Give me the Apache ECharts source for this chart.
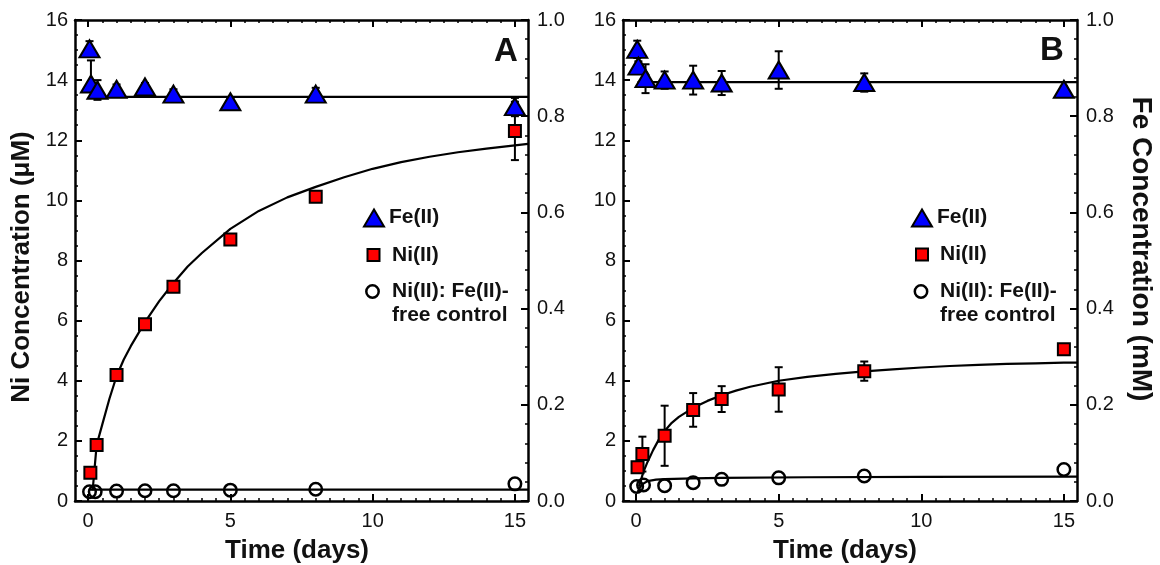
<!DOCTYPE html>
<html><head><meta charset="utf-8">
<script src="https://cdn.jsdelivr.net/npm/echarts@6/dist/echarts.min.js"></script>
<style>html,body{margin:0;padding:0;background:#fff}#c{width:1160px;height:565px}</style>
</head><body><div id="c"></div><script>
// ---------- DATA ----------
const xMajorTicks = [0, 5, 10, 15];
const xMinorTicks = [0,0.5,1,1.5,2,2.5,3,3.5,4,4.5,5,5.5,6,6.5,7,7.5,8,8.5,9,9.5,10,10.5,11,11.5,12,12.5,13,13.5,14,14.5,15];

// Panel A
const timeFeA = [0.05, 0.1, 0.33, 1, 2, 3, 5, 8, 15];
const feA     = [0.940, 0.867, 0.854, 0.856, 0.861, 0.846, 0.830, 0.846, 0.820];
const feALow  = [0.925, 0.867, 0.834, 0.847, 0.850, 0.838, 0.822, 0.831, 0.800];
const feAHigh = [0.956, 0.916, 0.875, 0.866, 0.869, 0.856, 0.838, 0.859, 0.838];
const feFitATime = [0.05, 15.46];
const feFitA     = [0.840, 0.840];

const timeNiA = [0.08, 0.3, 1, 2, 3, 5, 8, 15];
const niA     = [0.94, 1.86, 4.19, 5.88, 7.13, 8.7, 10.12, 12.31];
const niAErr  = [0, 0, 0, 0, 0, 0, 0, 0.97];
const niFitATime = [0.16, 0.3, 0.5, 0.75, 1, 1.25, 1.5, 2, 2.5, 3, 3.5, 4, 5, 6, 7, 8, 9, 10, 11, 12, 13, 14, 15, 15.46];
const niFitA     = [0.35, 1.86, 2.55, 3.4, 4.15, 4.7, 5.15, 5.95, 6.65, 7.25, 7.8, 8.25, 9.05, 9.65, 10.1, 10.45, 10.77, 11.05, 11.27, 11.45, 11.6, 11.72, 11.83, 11.88];

const timeCtrlA = [0.05, 0.25, 1, 2, 3, 5, 8, 15];
const ctrlA     = [0.31, 0.31, 0.33, 0.34, 0.34, 0.36, 0.39, 0.57];
const ctrlFitATime = [0.05, 15.46];
const ctrlFitA     = [0.38, 0.38];

// Panel B
const timeFeB = [0.04, 0.08, 0.33, 1, 2, 3, 5, 8, 15];
const feB     = [0.939, 0.904, 0.878, 0.875, 0.875, 0.869, 0.896, 0.870, 0.856];
const feBErr  = [0.018, 0.010, 0.030, 0.018, 0.030, 0.025, 0.039, 0.019, 0.006];
const feFitBTime = [0.05, 15.46];
const feFitB     = [0.871, 0.871];

const timeNiB = [0.05, 0.22, 1, 2, 3, 5, 8, 15];
const niB     = [1.12, 1.56, 2.17, 3.03, 3.39, 3.71, 4.32, 5.05];
const niBErr  = [0.15, 0.58, 1.0, 0.56, 0.43, 0.74, 0.32, 0];
const niFitBTime = [0.1, 0.25, 0.4, 0.6, 0.8, 1, 1.25, 1.5, 2, 2.5, 3, 3.5, 4, 5, 6, 7, 8, 9, 10, 11, 12, 13, 14, 15, 15.46];
const niFitB     = [0.48, 0.95, 1.3, 1.7, 2.05, 2.33, 2.6, 2.8, 3.1, 3.33, 3.52, 3.67, 3.8, 4.0, 4.13, 4.23, 4.31, 4.38, 4.44, 4.49, 4.53, 4.56, 4.58, 4.6, 4.6];

const timeCtrlB = [0.02, 0.26, 1, 2, 3, 5, 8, 15];
const ctrlB     = [0.48, 0.53, 0.51, 0.61, 0.72, 0.77, 0.83, 1.05];
const ctrlFitBTime = [0.05, 0.2, 0.4, 0.7, 1, 2, 3, 6, 10, 15.46];
const ctrlFitB     = [0.3, 0.55, 0.66, 0.71, 0.73, 0.75, 0.77, 0.79, 0.8, 0.81];

// ---------- CHART ----------
const FONT = '"Liberation Sans", Arial, sans-serif';
const INK = '#111';
const chart = echarts.init(document.getElementById('c'));
const zip = (a, b) => a.map((v, i) => [v, b[i]]);

function xAxesFor(gi) {
  const base = {gridIndex: gi, type: 'value', min: -0.46, max: 15.46, splitLine: {show: false}};
  return [
    Object.assign({}, base, {position: 'bottom',
      axisLine: {show: true, onZero: false, lineStyle: {color: '#000', width: 2.5}},
      axisTick: {show: true, inside: true, length: 7, customValues: xMajorTicks, lineStyle: {color: '#000', width: 2}},
      axisLabel: {show: true, customValues: xMajorTicks, fontSize: 20, color: INK, margin: 10, fontFamily: FONT}}),
    Object.assign({}, base, {position: 'bottom',
      axisLine: {show: false, onZero: false},
      axisTick: {show: true, inside: true, length: 3, customValues: xMinorTicks, lineStyle: {color: '#000', width: 1.5}},
      axisLabel: {show: false}}),
    Object.assign({}, base, {position: 'top',
      axisLine: {show: true, onZero: false, lineStyle: {color: '#000', width: 2.5}},
      axisTick: {show: true, inside: true, length: 7, customValues: xMajorTicks, lineStyle: {color: '#000', width: 2}},
      axisLabel: {show: false}}),
    Object.assign({}, base, {position: 'top',
      axisLine: {show: false, onZero: false},
      axisTick: {show: true, inside: true, length: 3, customValues: xMinorTicks, lineStyle: {color: '#000', width: 1.5}},
      axisLabel: {show: false}})
  ];
}
function yAxesFor(gi) {
  return [
    {gridIndex: gi, type: 'value', min: 0, max: 16, interval: 2, position: 'left',
     splitLine: {show: false},
     axisLine: {show: true, onZero: false, lineStyle: {color: '#000', width: 2.5}},
     axisTick: {show: true, inside: true, length: 7, lineStyle: {color: '#000', width: 2}},
     minorTick: {show: true, splitNumber: 4, length: 3, lineStyle: {color: '#000', width: 1.5}},
     axisLabel: {fontSize: 20, color: INK, margin: 7, fontFamily: FONT}},
    {gridIndex: gi, type: 'value', min: 0, max: 1, interval: 0.2, position: 'right',
     splitLine: {show: false},
     axisLine: {show: true, onZero: false, lineStyle: {color: '#000', width: 2.5}},
     axisTick: {show: true, inside: true, length: 7, lineStyle: {color: '#000', width: 2}},
     minorTick: {show: true, splitNumber: 5, length: 3, lineStyle: {color: '#000', width: 1.5}},
     axisLabel: {fontSize: 20, color: INK, margin: 9, fontFamily: FONT, formatter: v => v.toFixed(1)}}
  ];
}

function lineSeries(xi, yi, t, v) {
  return {type: 'line', xAxisIndex: xi, yAxisIndex: yi, data: zip(t, v), showSymbol: false, symbol: 'none',
    smooth: false, silent: true, z: 2,
    lineStyle: {color: '#000', width: 2.2, join: 'round'}};
}
function errSeries(xi, yi, t, lo, hi) {
  const data = t.map((x, i) => [x, lo[i], hi[i]]).filter(d => d[2] - d[1] > 1e-9);
  return {type: 'custom', xAxisIndex: xi, yAxisIndex: yi, z: 3, silent: true, data,
    encode: {x: 0, y: [1, 2]},
    renderItem: (params, api) => {
      const x = api.value(0), p1 = api.coord([x, api.value(1)]), p2 = api.coord([x, api.value(2)]);
      const w = 4, st = {stroke: '#000', lineWidth: 2};
      return {type: 'group', children: [
        {type: 'line', shape: {x1: p1[0], y1: p1[1], x2: p2[0], y2: p2[1]}, style: st},
        {type: 'line', shape: {x1: p1[0] - w, y1: p1[1], x2: p1[0] + w, y2: p1[1]}, style: st},
        {type: 'line', shape: {x1: p2[0] - w, y1: p2[1], x2: p2[0] + w, y2: p2[1]}, style: st}
      ]};
    }};
}
function scatter(xi, yi, name, t, v, kind) {
  const s = {type: 'scatter', name, xAxisIndex: xi, yAxisIndex: yi, data: zip(t, v), z: 4, silent: true};
  if (kind === 'tri') { s.symbol = 'triangle'; s.symbolSize = [20, 17]; s.itemStyle = {color: '#0000ff', borderColor: '#000', borderWidth: 2, opacity: 1}; }
  if (kind === 'sq')  { s.symbol = 'rect'; s.symbolSize = 12; s.itemStyle = {color: '#ff0000', borderColor: '#000', borderWidth: 2, opacity: 1}; }
  if (kind === 'ci')  { s.symbol = 'circle'; s.symbolSize = 12.5; s.itemStyle = {color: 'rgba(0,0,0,0)', borderColor: '#000', borderWidth: 2.5, opacity: 1}; }
  return s;
}
const sub = (v, e) => v.map((x, i) => x - e[i]);
const add = (v, e) => v.map((x, i) => x + e[i]);

function panel(xi, yl, yr, d) {
  return [
    lineSeries(xi, yr, d.feFitT, d.feFit),
    lineSeries(xi, yl, d.niFitT, d.niFit),
    lineSeries(xi, yl, d.ctrlFitT, d.ctrlFit),
    errSeries(xi, yr, d.feT, d.feLo, d.feHi),
    errSeries(xi, yl, d.niT, sub(d.ni, d.niErr), add(d.ni, d.niErr)),
    scatter(xi, yl, 'Ni(II): Fe(II)-free control', d.ctrlT, d.ctrl, 'ci'),
    scatter(xi, yl, 'Ni(II)', d.niT, d.ni, 'sq'),
    scatter(xi, yr, 'Fe(II)', d.feT, d.fe, 'tri')
  ];
}

const seriesA = panel(0, 0, 1, {feFitT: feFitATime, feFit: feFitA, niFitT: niFitATime, niFit: niFitA,
  ctrlFitT: ctrlFitATime, ctrlFit: ctrlFitA, feT: timeFeA, fe: feA, feLo: feALow, feHi: feAHigh,
  niT: timeNiA, ni: niA, niErr: niAErr, ctrlT: timeCtrlA, ctrl: ctrlA});
const seriesB = panel(4, 2, 3, {feFitT: feFitBTime, feFit: feFitB, niFitT: niFitBTime, niFit: niFitB,
  ctrlFitT: ctrlFitBTime, ctrlFit: ctrlFitB, feT: timeFeB, fe: feB, feLo: sub(feB, feBErr), feHi: add(feB, feBErr),
  niT: timeNiB, ni: niB, niErr: niBErr, ctrlT: timeCtrlB, ctrl: ctrlB});

function txt(x, y, text, size, opts) {
  return Object.assign({type: 'text', x, y, silent: true, z: 10,
    style: {text, font: 'bold ' + size + 'px ' + FONT, fill: INK, textAlign: 'left', textVerticalAlign: 'middle'}}, opts || {});
}
function legendGroup(tx, ty, sx, sy, cx, cy, textX) {
  return [
    {type: 'polygon', silent: true, z: 10, shape: {points: [[tx - 10, ty + 8.5], [tx + 10, ty + 8.5], [tx, ty - 8.5]]},
      style: {fill: '#0000ff', stroke: '#000', lineWidth: 2}},
    {type: 'rect', silent: true, z: 10, shape: {x: sx - 6, y: sy - 6, width: 12, height: 12},
      style: {fill: '#ff0000', stroke: '#000', lineWidth: 2}},
    {type: 'circle', silent: true, z: 10, shape: {cx, cy, r: 6.2},
      style: {fill: 'none', stroke: '#000', lineWidth: 2.5}},
    txt(textX - 2, ty - 1, 'Fe(II)', 21),
    txt(textX + 1, sy, 'Ni(II)', 21),
    txt(textX + 1, cy, 'Ni(II): Fe(II)-', 21),
    txt(textX + 1, cy + 24, 'free control', 21)
  ];
}

const centered = (x, y, text, size, rot) => ({type: 'text', x, y, rotation: rot || 0, silent: true, z: 10,
  style: {text, font: 'bold ' + size + 'px ' + FONT, fill: INK, textAlign: 'center', textVerticalAlign: 'middle'}});

chart.setOption({
  animation: false,
  backgroundColor: '#fff',
  grid: [
    {left: 75, top: 20, width: 453, height: 481, containLabel: false},
    {left: 623, top: 20, width: 454, height: 481, containLabel: false}
  ],
  xAxis: xAxesFor(0).concat(xAxesFor(1)),
  yAxis: yAxesFor(0).concat(yAxesFor(1)),
  series: seriesA.concat(seriesB),
  graphic: [
    centered(506, 52, 'A', 33),
    centered(1052, 51, 'B', 33),
    centered(22, 267, 'Ni Concentration (μM)', 26, Math.PI / 2),
    centered(1141, 249, 'Fe Concentration (mM)', 28, -Math.PI / 2),
    centered(297, 551, 'Time (days)', 26),
    centered(845, 551, 'Time (days)', 26)
  ].concat(legendGroup(374, 218, 373.5, 255, 372.5, 291.5, 391))
   .concat(legendGroup(922, 218, 922, 254.5, 921, 291.5, 939))
});
</script></body></html>
